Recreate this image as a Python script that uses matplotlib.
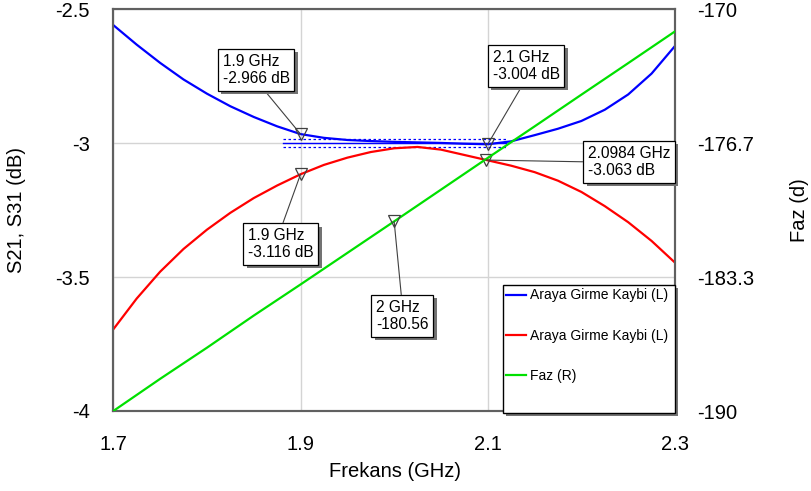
import matplotlib
matplotlib.use("Agg")
import matplotlib.pyplot as plt
import matplotlib.patheffects as pe
from matplotlib.lines import Line2D
from matplotlib.patches import Rectangle

plt.rcParams["font.family"] = ["Liberation Sans", "DejaVu Sans"]

# Frekans (GHz) ekseni
freq = [1.700, 1.725, 1.750, 1.775, 1.800, 1.825, 1.850, 1.875, 1.900,
        1.925, 1.950, 1.975, 2.000, 2.025, 2.050, 2.075, 2.100, 2.125,
        2.150, 2.175, 2.200, 2.225, 2.250, 2.275, 2.300]

# Araya girme kaybi (dB) - mavi
s21 = [-2.559, -2.632, -2.700, -2.762, -2.815, -2.862, -2.902, -2.937, -2.966,
       -2.980, -2.988, -2.992, -2.995, -2.997, -2.999, -3.002, -3.004, -2.993,
       -2.970, -2.946, -2.917, -2.875, -2.818, -2.740, -2.637]

# Araya girme kaybi (dB) - kirmizi
s31 = [-3.695, -3.580, -3.480, -3.395, -3.323, -3.260, -3.205, -3.158, -3.116,
       -3.081, -3.054, -3.033, -3.019, -3.014, -3.024, -3.044, -3.064, -3.084,
       -3.108, -3.140, -3.182, -3.235, -3.295, -3.365, -3.446]

# Faz (derece) - yesil
faz_freq = [1.70, 1.75, 1.80, 1.85, 1.90, 1.95, 2.00, 2.05, 2.10, 2.15, 2.20, 2.25, 2.30]
faz = [-190.0, -188.4, -186.85, -185.25, -183.7, -182.13, -180.56,
       -178.98, -177.4, -175.83, -174.25, -172.68, -171.1]

# hedef cizgisi (-3 dB) ve toleranslari
goal_freq = [1.881, 2.119]
goal_val = -3.0
goal_tol = 0.015

# isaretciler
s21_mk_f = [1.9, 2.1]
s21_mk_v = [-2.966, -3.004]
s31_mk_f = [1.9, 2.0984]
s31_mk_v = [-3.116, -3.063]
faz_mk_f = [2.0]
faz_mk_v = [-180.56]

x_ticks = [1.7, 1.9, 2.1, 2.3]
x_labels = ["1.7", "1.9", "2.1", "2.3"]
yl_ticks = [-4, -3.5, -3, -2.5]
yl_labels = ["-4", "-3.5", "-3", "-2.5"]
yr_ticks = [-190, -183.333, -176.667, -170]
yr_labels = ["-190", "-183.3", "-176.7", "-170"]

legend_labels = ["Araya Girme Kaybi (L)", "Araya Girme Kaybi (L)", "Faz (R)"]

BLUE = "#0000ff"
RED = "#ff0000"
GREEN = "#00e000"
SPINE = "#606060"
GRID = "#d4d4d4"
MK = "#404040"

fig = plt.figure(figsize=(8.12, 4.91), dpi=100)
ax = fig.add_axes([113.3 / 812, 80 / 491, 561.7 / 812, 401.7 / 491])
ax2 = ax.twinx()

ax.plot(freq, s21, color=BLUE, lw=1.6, zorder=3)
ax.plot(freq, s31, color=RED, lw=1.6, zorder=3)
ax2.plot(faz_freq, faz, color=GREEN, lw=1.6, zorder=3)

# hedef cizgileri
ax.plot(goal_freq, [goal_val, goal_val], color=BLUE, lw=1.0, zorder=2)
for d in (-goal_tol, goal_tol):
    ax.plot(goal_freq, [goal_val + d, goal_val + d], color=BLUE, lw=0.9,
            ls=(0, (2, 2)), zorder=2)

mk_style = dict(marker="v", markersize=8, markerfacecolor="none",
                markeredgecolor=MK, markeredgewidth=0.9, ls="none", zorder=4)
ax.plot(s21_mk_f, s21_mk_v, **mk_style)
ax.plot(s31_mk_f, s31_mk_v, **mk_style)
ax2.plot(faz_mk_f, faz_mk_v, **mk_style)

ax.set_xlim(1.7, 2.3)
ax.set_ylim(-4, -2.5)
ax2.set_ylim(-190, -170)

ax.set_xticks(x_ticks, x_labels)
ax.set_yticks(yl_ticks, yl_labels)
ax2.set_yticks(yr_ticks, yr_labels)

ax.grid(True, color=GRID, lw=1.0)
ax.set_axisbelow(True)
ax.tick_params(axis="both", length=0, labelsize=14.5)
ax.tick_params(axis="y", pad=17)
ax.tick_params(axis="x", pad=17)
ax2.tick_params(axis="y", length=0, labelsize=14.5, pad=16)

for a in (ax, ax2):
    for sp in a.spines.values():
        sp.set_color(SPINE)
        sp.set_linewidth(1.5)

ax.set_xlabel("Frekans (GHz)", fontsize=14.5)
ax.set_ylabel("S21, S31 (dB)", fontsize=14.5)
ax2.set_ylabel("Faz (d)", fontsize=14.5)
ax.xaxis.set_label_coords(0.501, -0.126)
ax.yaxis.set_label_coords(-0.155, 0.5)
ax2.yaxis.set_label_coords(1.205, 0.5)

# isaretci etiketleri
shadow = [pe.SimplePatchShadow(offset=(2.5, -2.5), shadow_rgbFace="0.45", alpha=1.0),
          pe.Normal()]
notes = [
    ("1.9 GHz\n-2.966 dB", ax.transData, (s21_mk_f[0], s21_mk_v[0]), (0.1947, 0.8895), (0.57, 0)),
    ("2.1 GHz\n-3.004 dB", ax.transData, (s21_mk_f[1], s21_mk_v[1]), (0.6754, 0.8995), (0.47, 0)),
    ("2.0984 GHz\n-3.063 dB", ax.transData, (s31_mk_f[1], s31_mk_v[1]), (0.8446, 0.6605), (0, 0.5)),
    ("1.9 GHz\n-3.116 dB", ax.transData, (s31_mk_f[0], s31_mk_v[0]), (0.2393, 0.4563), (0.51, 1)),
    ("2 GHz\n-180.56", ax2.transData, (faz_mk_f[0], faz_mk_v[0]), (0.4677, 0.2771), (0.49, 1)),
]
for txt, tr, xy, xyt, rp in notes:
    an = ax2.annotate(txt, xy=xy, xycoords=tr, xytext=xyt, textcoords="axes fraction",
                      ha="left", va="top", fontsize=11.2, zorder=6, annotation_clip=False,
                      bbox=dict(boxstyle="square,pad=0.3", fc="white", ec="black", lw=0.9),
                      arrowprops=dict(arrowstyle="-", color=MK, lw=0.8, relpos=rp,
                                      shrinkA=0, shrinkB=0))
    an.get_bbox_patch().set_path_effects(shadow)

# lejant
rect = Rectangle((0.6933, -0.005), 0.3067, 0.3187, transform=ax2.transAxes,
                 fc="white", ec="black", lw=1.0, clip_on=False, zorder=7)
rect.set_path_effects(shadow)
ax2.add_patch(rect)
handles = [Line2D([], [], color=BLUE, lw=1.6),
           Line2D([], [], color=RED, lw=1.6),
           Line2D([], [], color=GREEN, lw=1.6)]
leg = ax2.legend(handles, legend_labels, loc="upper left", bbox_to_anchor=(0.6933, 0.3137),
                 frameon=False, fontsize=10, borderpad=0.25, borderaxespad=0,
                 handlelength=1.45, handletextpad=0.25, labelspacing=1.9)
leg.set_zorder(8)

fig.savefig("out.png", dpi=100)
